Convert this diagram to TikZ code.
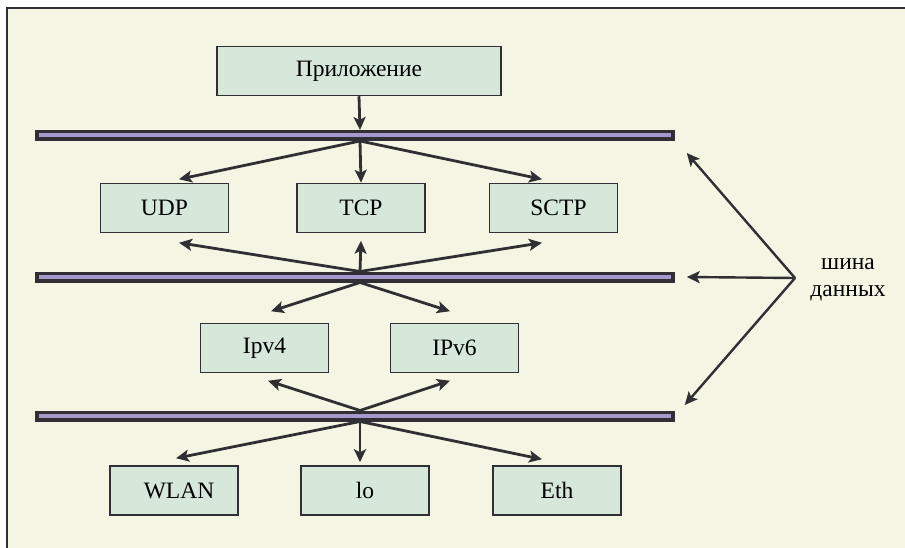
\documentclass[tikz,border=0pt]{standalone}
\usepackage{fontspec}
\setmainfont{Liberation Serif}
\usetikzlibrary{arrows.meta}

\definecolor{bgcream}{HTML}{F4F6E3}
\definecolor{boxmint}{HTML}{D5E8DA}
\definecolor{buspurple}{HTML}{A498CC}
\definecolor{edgegray}{HTML}{303034}

\begin{document}
\begin{tikzpicture}[x=1pt,y=-1pt,
        layer/.style={draw=edgegray,line width=1.5pt,fill=boxmint,
            minimum width=128pt,minimum height=49pt,inner sep=0pt,
            font=\fontsize{23.5}{27}\selectfont},
        bus/.style={draw=edgegray,line width=3.5pt,fill=buspurple,
            minimum width=636pt,minimum height=7.5pt,inner sep=0pt},
        flow/.style={draw=edgegray,line width=2.8pt,
            -{Stealth[length=13pt,width=12pt,inset=3pt]}},
        pointer/.style={draw=edgegray,line width=2.4pt,
            -{Stealth[length=13pt,width=12pt,inset=3pt]}}
    ]
        % frame
        \useasboundingbox (0,0) rectangle (905,548);
        \fill[bgcream] (7,8) rectangle (905,548);
        \draw[edgegray,line width=1.5pt] (7,548) -- (7,8) -- (905,8);

        % layers
        \node[layer,minimum width=284pt] (app) at (359,71) {Приложение};

        \node[bus] (bus1) at (355,135.5) {};
        \node[bus] (bus2) at (355,277) {};
        \node[bus] (bus3) at (355,416) {};

        \node[layer] (udp)  at (164.5,208) {UDP};
        \node[layer] (tcp)  at (361,208) {TCP};
        \node[layer] (sctp) at (553.5,208) {\hspace*{10pt}SCTP};

        \node[layer] (ipv4) at (264.5,348) {Ipv4};
        \node[layer] (ipv6) at (454.5,348) {IPv6};

        \node[layer] (wlan) at (174,490.5) {\hspace*{10pt}WLAN};
        \node[layer] (lo)   at (365,490.5) {lo};
        \node[layer] (eth)  at (557,490.5) {Eth};

        \node[font=\fontsize{23.5}{27}\selectfont,align=center,inner sep=0pt]
            (buslbl) at (848,280) {шина\\данных};

        \coordinate (hub1s) at ([xshift=5pt]bus1.south);
        \coordinate (hub2n) at ([xshift=5pt]bus2.north);
        \coordinate (hub2s) at ([xshift=5pt]bus2.south);
        \coordinate (hub3n) at ([xshift=5pt]bus3.north);
        \coordinate (hub3s) at ([xshift=5pt]bus3.south);
        \coordinate (hub) at (795,278);

        % application to bus
        \draw[flow] (app.south) -- ([xshift=5pt]bus1.north);

        % bus 1 -> transport
        \draw[flow] (hub1s) -- ([xshift=14.5pt,yshift=3.5pt]udp.north);
        \draw[flow] (hub1s) -- (tcp.north);
        \draw[flow] (hub1s) -- ([xshift=-11.5pt,yshift=3.5pt]sctp.north);

        % bus 2 -> transport / network
        \draw[flow] (hub2n) -- ([xshift=14.5pt,yshift=-9.5pt]udp.south);
        \draw[flow] (hub2n) -- ([yshift=-7.5pt]tcp.south);
        \draw[flow] (hub2n) -- ([xshift=-11.5pt,yshift=-9.5pt]sctp.south);
        \draw[flow] (hub2s) -- ([xshift=6.5pt,yshift=11.5pt]ipv4.north);
        \draw[flow] (hub2s) -- ([xshift=-4.5pt,yshift=11.5pt]ipv6.north);

        % bus 3 -> network / link
        \draw[flow] (hub3n) -- ([xshift=3.5pt,yshift=-7.5pt]ipv4.south);
        \draw[flow] (hub3n) -- ([xshift=-4.5pt,yshift=-7.5pt]ipv6.south);
        \draw[flow] (hub3s) -- ([xshift=2pt,yshift=7pt]wlan.north);
        \draw[flow] (hub3s) -- ([xshift=-5pt,yshift=3pt]lo.north);
        \draw[flow] (hub3s) -- ([xshift=-15pt,yshift=6pt]eth.north);

        % label pointers
        \draw[pointer] (hub) -- ([xshift=12pt,yshift=-17.5pt]bus1.east);
        \draw[pointer] (hub) -- ([xshift=12pt]bus2.east);
        \draw[pointer] (hub) -- ([xshift=10pt,yshift=11pt]bus3.east);
\end{tikzpicture}
\end{document}
